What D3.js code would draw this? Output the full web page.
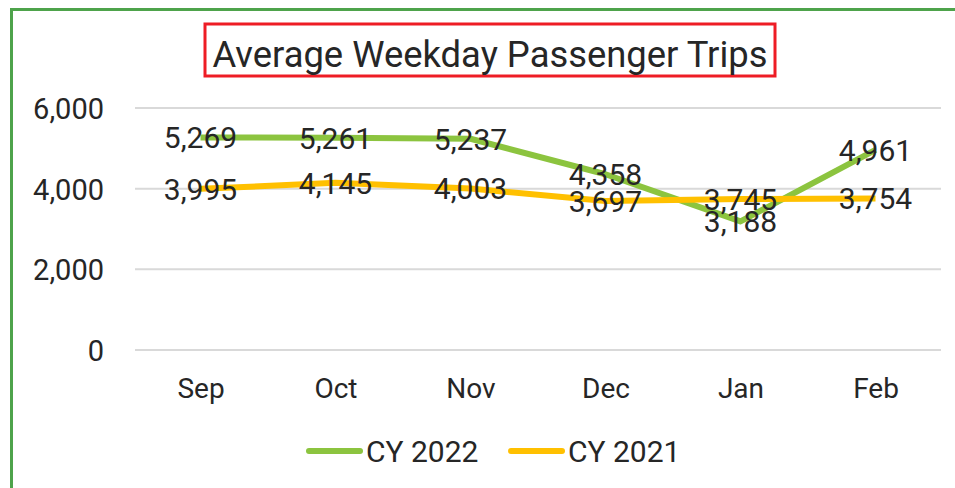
<!DOCTYPE html>
<html><head><meta charset="utf-8">
<script src="https://cdn.jsdelivr.net/npm/d3@7"></script>
<style>body{margin:0;background:#fff}svg{display:block}text{font-family:Roboto,"Noto Sans",sans-serif;fill:#262626}</style>
</head><body>
<svg id="c" width="955" height="488"></svg>
<script>
const months = ["Sep","Oct","Nov","Dec","Jan","Feb"];
const cy2022 = [5269,5261,5237,4358,3188,4961];
const cy2021 = [3995,4145,4003,3697,3745,3754];
const yTicks = [0,2000,4000,6000];
const seriesNames = ["CY 2022","CY 2021"];
const colors = ["#8cc43f","#ffc000"];
const title = "Average Weekday Passenger Trips";

const svg = d3.select("#c");
// outer frame
svg.append("path").attr("d","M11.5,488 V9.5 H955").attr("fill","none").attr("stroke","#4ea34b").attr("stroke-width",3);

// title
svg.append("rect").attr("x",205).attr("y",24).attr("width",570).attr("height",52)
  .attr("fill","none").attr("stroke","#ee1c25").attr("stroke-width",3);
svg.append("text").attr("x",490).attr("y",67).attr("text-anchor","middle")
  .attr("font-size",37).attr("textLength",555).attr("lengthAdjust","spacingAndGlyphs").text(title);

const x = d3.scalePoint().domain(months).range([133,943]).padding(0.5);
const y = d3.scaleLinear().domain([0,6000]).range([350,108]);

// gridlines
svg.append("g").selectAll("line").data(yTicks).join("line")
  .attr("x1",135).attr("x2",941).attr("y1",d=>y(d)).attr("y2",d=>y(d))
  .attr("stroke","#d9d9d9").attr("stroke-width",2);

// y axis
const ya = svg.append("g").attr("transform","translate(104,0)")
  .call(d3.axisLeft(y).tickValues(yTicks).tickFormat(d3.format(",")).tickSize(0).tickPadding(0));
ya.select(".domain").remove();
ya.selectAll("text").attr("font-size",29).attr("fill","#262626").attr("font-family","Roboto").attr("dy","0.36em");

// x axis
const xa = svg.append("g").attr("transform","translate(0,398)")
  .call(d3.axisBottom(x).tickSize(0).tickPadding(0));
xa.select(".domain").remove();
xa.selectAll("text").attr("font-size",28).attr("fill","#262626").attr("font-family","Roboto").attr("dy","0");

const line = d3.line().x((d,i)=>x(months[i])).y(d=>y(d));
const series = [cy2022, cy2021];
series.forEach((s,k)=>{
  svg.append("path").datum(s).attr("d",line).attr("fill","none")
    .attr("stroke",colors[k]).attr("stroke-width",6).attr("stroke-linejoin","round").attr("stroke-linecap","butt");
});
series.forEach((s,k)=>{
  svg.append("g").selectAll("text").data(s).join("text")
    .attr("x",(d,i)=>x(months[i])).attr("y",d=>y(d)).attr("dy","0.36em")
    .attr("text-anchor","middle").attr("font-size",30).text(d3.format(","));
});

// legend
const leg = [{x:307},{x:509}];
leg.forEach((l,k)=>{
  svg.append("line").attr("x1",l.x+2).attr("x2",l.x+53).attr("y1",451).attr("y2",451)
    .attr("stroke",colors[k]).attr("stroke-width",6).attr("stroke-linecap","round");
  svg.append("text").attr("x",l.x+59).attr("y",462).attr("font-size",30).text(seriesNames[k]);
});
</script>
</body></html>
